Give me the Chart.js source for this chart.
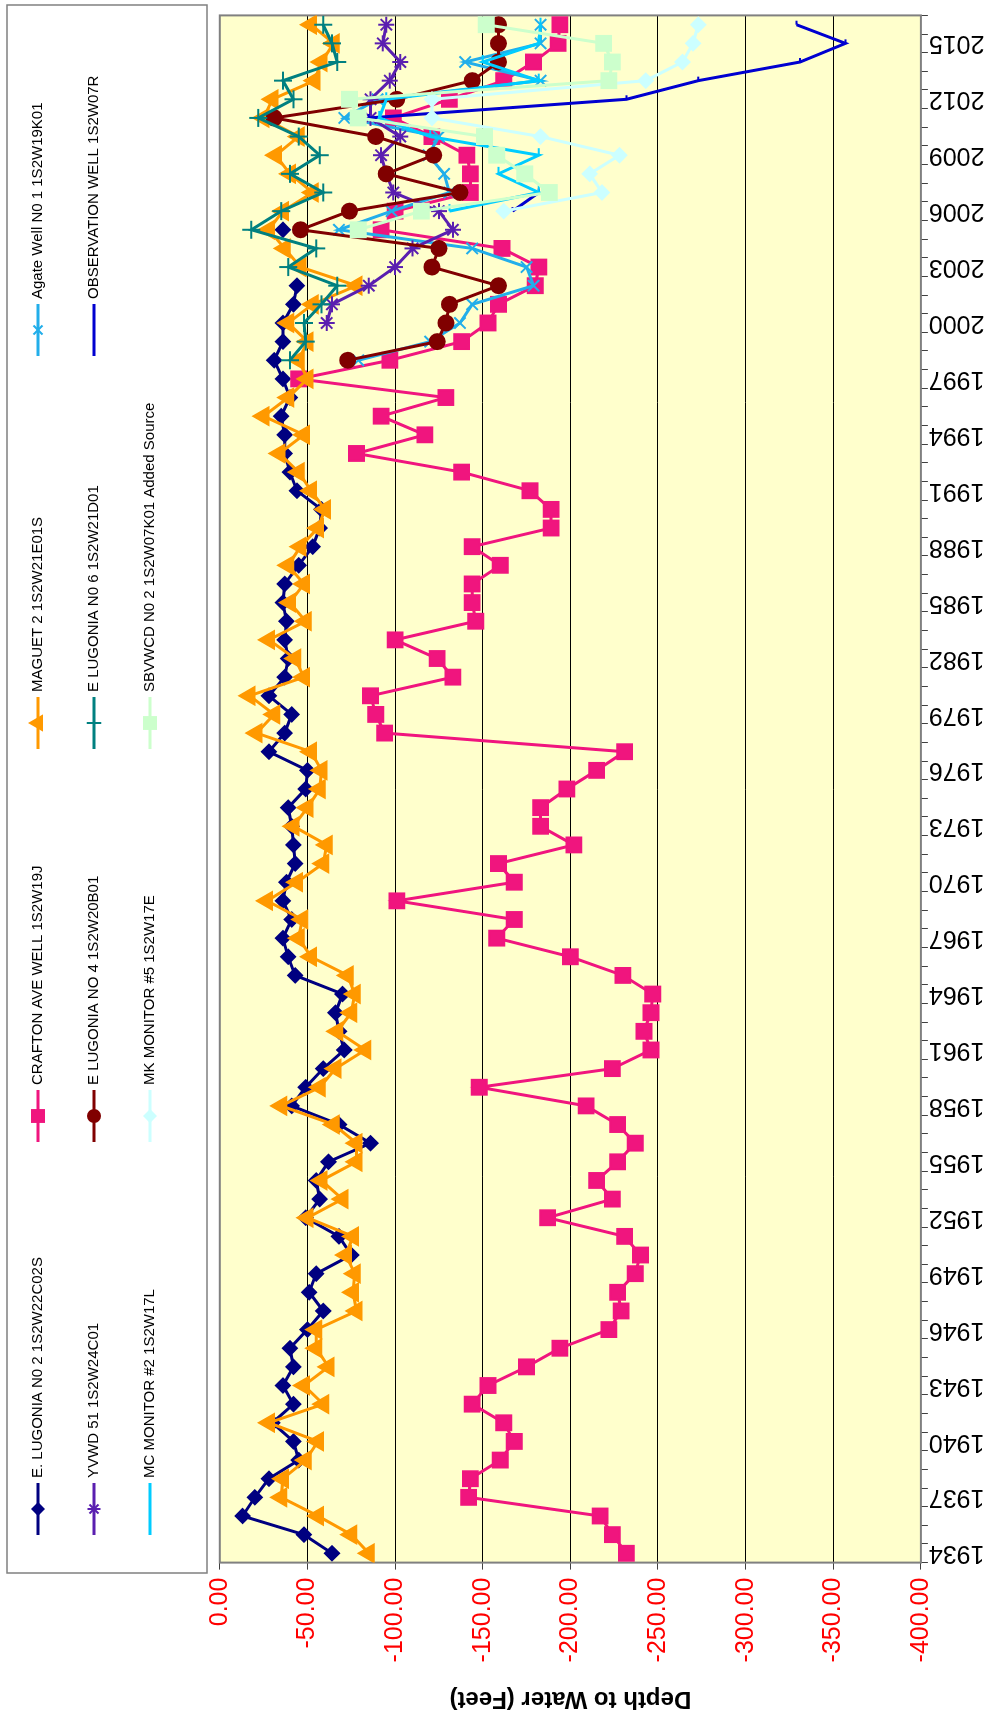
<!DOCTYPE html>
<html>
<head>
<meta charset="utf-8">
<script src="https://cdn.jsdelivr.net/npm/chart.js@4.4.1/dist/chart.umd.min.js"></script>
<style>
  html, body { margin: 0; padding: 0; background: #fff; width: 1000px; height: 1723px; overflow: hidden; }
  /* the chart is laid out landscape and turned a quarter turn counter-clockwise */
  #frame { position: absolute; left: 0; top: 0; width: 1723px; height: 1000px;
           transform-origin: 0 0; transform: translate(0px, 1723px) rotate(-90deg); }
  canvas { display: block; }
</style>
</head>
<body>
<div id="frame"><canvas id="wells" width="1723" height="1000"></canvas></div>
<script>
// ---- data: depth to water (feet, negative = below surface) ----
const years = [1934,1935,1936,1937,1938,1939,1940,1941,1942,1943,1944,1945,1946,1947,1948,1949,
  1950,1951,1952,1953,1954,1955,1956,1957,1958,1959,1960,1961,1962,1963,1964,1965,1966,1967,1968,1969,
  1970,1971,1972,1973,1974,1975,1976,1977,1978,1979,1980,1981,1982,1983,1984,1985,1986,1987,1988,1989,
  1990,1991,1992,1993,1994,1995,1996,1997,1998,1999,2000,2001,2002,2003,2004,2005,2006,2007,2008,2009,
  2010,2011,2012,2013,2014,2015,2016];
const recentYears = [1998,1999,2000,2001,2002,2003,2004,2005,2006,2007,2008,2009,2010,2011,2012,2013,2014,2015,2016];
const tickYears = [1934,1937,1940,1943,1946,1949,1952,1955,1958,1961,1964,1967,1970,1973,1976,1979,
  1982,1985,1988,1991,1994,1997,2000,2003,2006,2009,2012,2015];
const depthTicks = [0,-50,-100,-150,-200,-250,-300,-350,-400];

const eLugonia2 = [-64,-48,-13,-20,-28,-45,-42,-30,-42,-36,-42,-40,-50,-59,-51,-55,
  -75,-68,-49,-57,-55,-62,-86,-68,-41,-49,-59,-71,-68,-66,-70,-43,-39,-36,-41,-36,
  -38,-43,-42,-41,-39,-49,-50,-28,-37,-41,-28,-37,-39,-37,-38,-36,-37,-45,-53,-57,
  -58,-44,-40,-37,-37,-35,-40,-36,-31,-36,-36,-42,-44,null,null,-36,null,null,null,null,
  null,null,null,null,null,null,null];
const crafton = [-232,-224,-217,-142,-143,-160,-168,-162,-144,-153,-175,-194,-222,-229,-227,-237,
  -240,-231,-187,-224,-215,-227,-237,-227,-209,-148,-224,-246,-242,-246,-247,-230,-200,-158,-168,-101,
  -168,-159,-202,-183,-183,-198,-215,-231,-94,-89,-86,-133,-124,-100,-146,-144,-144,-160,-144,-189,
  -189,-177,-138,-78,-117,-92,-129,-45,-97,-138,-153,-159,-180,-182,-161,-92,-100,-143,-143,-141,
  -121,-99,-131,-162,-179,-193,-194];
const maguet = [-85,-75,-56,-35,-36,-49,-56,-28,-59,-48,-62,-55,-55,-78,-76,-77,
  -72,-76,-50,-70,-58,-78,-78,-65,-35,-57,-66,-83,-67,-75,-77,-73,-52,-45,-47,-27,
  -44,-59,-61,-42,-50,-57,-58,-52,-21,-31,-17,-48,-43,-28,-49,-40,-48,-39,-46,-56,
  -60,-52,-45,-34,-48,-25,-39,-50,-45,-50,-39,-53,-78,-46,-37,-28,-36,-53,-40,-32,
  -45,-25,-30,-54,-58,-65,-52];

// series that begin in 1998 (values follow recentYears)
const agate       = [-79,-120,-137,-144,-179,-175,-144,-68,-98,-131,-128,-119,-125,-71,-90,-183,-140,-183,-183];
const yvwd51      = [null,null,-61,-64,-85,-100,-110,-133,-125,-99,-95,-92,-103,-86,-86,-97,-103,-93,-95];
const eLugonia4   = [-73,-124,-129,-131,-159,-121,-125,-46,-74,-137,-95,-122,-89,-31,-101,-144,-159,-159,-159];
const eLugonia6   = [-40,-49,-48,-58,-67,-39,-55,-18,-35,-59,-40,-57,-45,-22,-42,-36,-67,-64,-59];
const observation = [null,null,null,null,null,null,null,null,-167,-182,null,null,null,-85,-232,-273,-331,-357,-329];
const mcMonitor2  = [null,null,null,null,null,null,null,null,-131,-182,-159,-182,-120,-91,-95,-182,-150,-182,-183];
const mkMonitor5  = [null,null,null,null,null,null,null,null,-162,-218,-211,-228,-183,-121,-121,-243,-264,-270,-273];
const sbvwcd2     = [null,null,null,null,null,null,null,-79,-115,-188,-174,-158,-151,-79,-74,-222,-224,-219,-152];

const seriesNames = [
  'E. LUGONIA N0 2 1S2W22C02S', 'CRAFTON AVE WELL 1S2W19J', 'MAGUET 2 1S2W21E01S', 'Agate Well N0 1 1S2W19K01',
  'YVWD 51 1S2W24C01', 'E LUGONIA NO 4 1S2W20B01', 'E LUGONIA N0 6 1S2W21D01', 'OBSERVATION WELL 1S2W07R',
  'MC MONITOR #2 1S2W17L', 'MK MONITOR #5 1S2W17E', 'SBVWCD N0 2 1S2W07K01 Added Source'
];

// ---- build the line datasets ----
function points(xs, ys) { return xs.map((x, i) => ({ x: x, y: ys[i] })); }

const styles = [
  { color: '#000080', pointStyle: 'rectRot',  radius: 7 },
  { color: '#F0157E', pointStyle: 'rect',     radius: 10.5 },
  { color: '#FF9900', pointStyle: 'triangle', radius: 10 },
  { color: '#22AEEA', pointStyle: 'crossRot', radius: 8 },
  { color: '#5A1FB0', pointStyle: 'star',     radius: 8 },
  { color: '#800000', pointStyle: 'circle',   radius: 7.5 },
  { color: '#008080', pointStyle: 'cross',    radius: 9 },
  { color: '#0000D0', pointStyle: 'dash',     radius: 4 },
  { color: '#00CCFF', pointStyle: 'dash',     radius: 7 },
  { color: '#CCFFFF', pointStyle: 'rectRot',  radius: 7 },
  { color: '#CCFFCC', pointStyle: 'rect',     radius: 10.5 }
];
const seriesData = [
  points(years, eLugonia2), points(years, crafton), points(years, maguet), points(recentYears, agate),
  points(recentYears, yvwd51), points(recentYears, eLugonia4), points(recentYears, eLugonia6),
  points(recentYears, observation), points(recentYears, mcMonitor2), points(recentYears, mkMonitor5),
  points(recentYears, sbvwcd2)
];
const datasets = seriesData.map((d, i) => ({
  label: seriesNames[i],
  data: d,
  order: -i,
  borderColor: styles[i].color,
  backgroundColor: styles[i].color,
  borderWidth: 3,
  pointStyle: styles[i].pointStyle,
  pointRadius: styles[i].radius,
  pointHoverRadius: styles[i].radius,
  pointBackgroundColor: styles[i].color,
  pointBorderColor: styles[i].color,
  pointBorderWidth: 2,
  tension: 0,
  spanGaps: false
}));

const FONT = "'Liberation Sans', Arial, sans-serif";
const NARROW = "'Liberation Sans Narrow', 'Arial Narrow', 'Liberation Sans', Arial, sans-serif";

// plot fill and frame
const plotFrame = {
  id: 'plotFrame',
  beforeDraw(chart) {
    const { ctx, chartArea: a } = chart;
    ctx.save();
    ctx.fillStyle = '#FFFFCC';
    ctx.fillRect(a.left, a.top, a.right - a.left, a.bottom - a.top);
    ctx.restore();
  },
  beforeDatasetsDraw(chart) {
    const { ctx, chartArea: a } = chart;
    ctx.save();
    ctx.strokeStyle = '#808080';
    ctx.lineWidth = 2;
    ctx.strokeRect(a.left, a.top, a.right - a.left, a.bottom - a.top);
    ctx.restore();
  }
};

// four-column key across the top
const keyBox = { left: 150, top: 7, right: 1718, bottom: 207 };
const keyRows = [38, 94, 150];
const keyCols = [188, 581, 974, 1367];
const keyPanel = {
  id: 'keyPanel',
  afterDraw(chart) {
    const ctx = chart.ctx;
    ctx.save();
    ctx.fillStyle = '#ffffff';
    ctx.fillRect(keyBox.left, keyBox.top, keyBox.right - keyBox.left, keyBox.bottom - keyBox.top);
    ctx.strokeStyle = '#808080';
    ctx.lineWidth = 1.5;
    ctx.strokeRect(keyBox.left, keyBox.top, keyBox.right - keyBox.left, keyBox.bottom - keyBox.top);
    chart.data.datasets.forEach((ds, i) => {
      const x0 = keyCols[i % 4];
      const y = keyRows[Math.floor(i / 4)];
      ctx.strokeStyle = ds.borderColor;
      ctx.lineWidth = 3;
      ctx.beginPath();
      ctx.moveTo(x0, y);
      ctx.lineTo(x0 + 52, y);
      ctx.stroke();
      ctx.fillStyle = ds.pointBackgroundColor;
      ctx.strokeStyle = ds.pointBorderColor;
      ctx.lineWidth = 2;
      if (Chart.helpers && Chart.helpers.drawPoint) {
        Chart.helpers.drawPoint(ctx, { pointStyle: ds.pointStyle, radius: ds.pointRadius * 0.8, borderWidth: 2, rotation: 0 }, x0 + 26, y);
      }
      ctx.fillStyle = '#000';
      ctx.font = '15px ' + NARROW;
      ctx.textBaseline = 'middle';
      ctx.textAlign = 'left';
      ctx.fillText(ds.label, x0 + 57, y);
    });
    ctx.restore();
  }
};

// keep the plot box fixed: no extra room reserved for end labels
function fixBox(size) {
  return (s) => {
    if (s.isHorizontal()) { s.height = size; } else { s.width = size; }
    s.paddingLeft = 0; s.paddingRight = 0; s.paddingTop = 0; s.paddingBottom = 0;
  };
}

new Chart(document.getElementById('wells'), {
  type: 'line',
  data: { datasets: datasets },
  plugins: [plotFrame, keyPanel],
  options: {
    responsive: false,
    animation: false,
    devicePixelRatio: 1,
    layout: { padding: { top: 219.8, right: 15.4, left: 0, bottom: 0 } },
    plugins: { legend: { display: false }, tooltip: { enabled: false }, title: { display: false } },
    scales: {
      x: {
        type: 'linear', position: 'bottom', min: 1933.5, max: 2016.5,
        afterBuildTicks: (s) => { s.ticks = years.map(y => ({ value: y - 0.5 })).concat([{ value: 2016.5 }]); },
        afterFit: fixBox(79.1),
        ticks: {
          autoSkip: false, minRotation: 90, maxRotation: 90, padding: 1, labelOffset: 9.32,
          color: '#000', font: { family: FONT, size: 25 },
          callback: (v) => tickYears.includes(v + 0.5) ? String(v + 0.5) : ''
        },
        grid: { drawOnChartArea: false, drawTicks: true, tickLength: 7, tickColor: '#404040', lineWidth: 1 },
        border: { display: false }
      },
      y: {
        type: 'linear', position: 'left', min: -400, max: 0,
        afterBuildTicks: (s) => { s.ticks = depthTicks.map(v => ({ value: v })); },
        afterFit: fixBox(160.4),
        ticks: { color: '#FF0000', font: { family: FONT, size: 25 }, padding: 8, callback: (v) => Number(v).toFixed(2) },
        grid: { color: '#000', lineWidth: 1, drawTicks: true, tickLength: 7, tickColor: '#404040' },
        border: { display: false },
        title: { display: true, text: 'Depth to Water (Feet)', color: '#000',
                 font: { family: FONT, size: 24, weight: 'bold' }, padding: { top: 10, bottom: 0 } }
      }
    }
  }
});
</script>
</body>
</html>
